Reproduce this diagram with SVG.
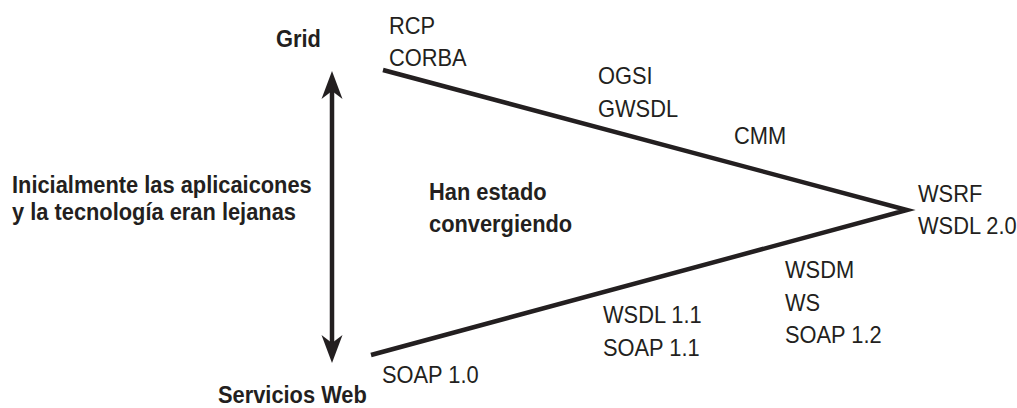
<svg xmlns="http://www.w3.org/2000/svg" width="1017" height="408" viewBox="0 0 1017 408">
  <style>
    text { font-family: "Liberation Sans", Arial, sans-serif; font-size: 24px; fill: #231f20; }
    .b { font-weight: bold; }
    .ln { stroke: #231f20; stroke-width: 4.5; fill: none; }
  </style>
  <defs>
    <marker id="ah" markerUnits="userSpaceOnUse" viewBox="0 -11 28 22" markerWidth="28" markerHeight="22" refX="8" refY="0" orient="auto-start-reverse">
      <path d="M28,0 L0,-10.5 L8,0 L0,10.5 Z" fill="#231f20"/>
    </marker>
  </defs>
  <rect width="1017" height="408" fill="#ffffff"/>

  <g id="connectors">
    <line class="ln" x1="332" y1="91" x2="332" y2="343" stroke-width="5" marker-start="url(#ah)" marker-end="url(#ah)"/>
    <polyline class="ln" points="383,70 907,210 371,355"/>
  </g>

  <g id="grid"><text class="b" transform="matrix(0.91 0 0 1 276 47)">Grid</text></g>
  <g id="servicios-web"><text class="b" transform="matrix(0.91 0 0 1 218 403)">Servicios Web</text></g>
  <g id="inicialmente">
    <text class="b" transform="matrix(0.91 0 0 1 12 193)">Inicialmente las aplicaicones</text>
    <text class="b" transform="matrix(0.91 0 0 1 12 220)">y la tecnología eran lejanas</text>
  </g>
  <g id="convergiendo">
    <text class="b" transform="matrix(0.91 0 0 1 429 200)">Han estado</text>
    <text class="b" transform="matrix(0.91 0 0 1 429 232)">convergiendo</text>
  </g>
  <g id="rcp-corba">
    <text transform="matrix(0.91 0 0 1 389 34)">RCP</text>
    <text transform="matrix(0.91 0 0 1 389 66)">CORBA</text>
  </g>
  <g id="ogsi-gwsdl">
    <text transform="matrix(0.91 0 0 1 598 84)">OGSI</text>
    <text transform="matrix(0.91 0 0 1 598 117)">GWSDL</text>
  </g>
  <g id="cmm"><text transform="matrix(0.91 0 0 1 734 144)">CMM</text></g>
  <g id="wsrf-wsdl20">
    <text transform="matrix(0.91 0 0 1 918 202)">WSRF</text>
    <text transform="matrix(0.91 0 0 1 918 234)">WSDL 2.0</text>
  </g>
  <g id="wsdm-ws-soap12">
    <text transform="matrix(0.91 0 0 1 785 278)">WSDM</text>
    <text transform="matrix(0.91 0 0 1 785 311)">WS</text>
    <text transform="matrix(0.91 0 0 1 785 343)">SOAP 1.2</text>
  </g>
  <g id="wsdl11-soap11">
    <text transform="matrix(0.91 0 0 1 603 323)">WSDL 1.1</text>
    <text transform="matrix(0.91 0 0 1 603 356)">SOAP 1.1</text>
  </g>
  <g id="soap10"><text transform="matrix(0.91 0 0 1 382 383)">SOAP 1.0</text></g>
</svg>
